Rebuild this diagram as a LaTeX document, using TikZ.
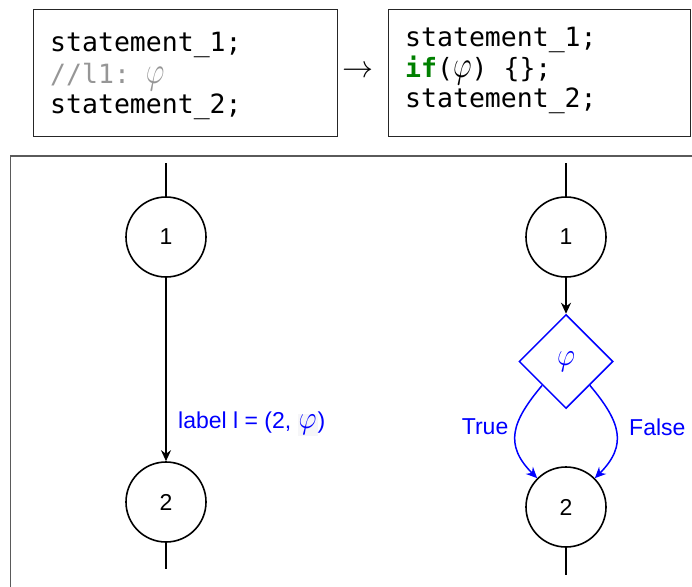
\RequirePackage{fix-cm}
\documentclass[tikz,border=0pt]{standalone}
\usepackage{fontspec}
\setmainfont{Liberation Sans}
\setmonofont{DejaVu Sans Mono}
\usetikzlibrary{arrows.meta,shapes.geometric}
\definecolor{cmtgray}{RGB}{150,150,150}
\definecolor{kwgreen}{RGB}{0,128,0}
\definecolor{frameg}{RGB}{90,90,90}
\definecolor{phibg}{RGB}{246,246,248}
\newcommand{\phicode}{\smash{\scalebox{1.45}[1.9]{\fontsize{20}{20}\selectfont$\varphi$}}}
\newcommand{\phigraph}{\scalebox{1.4}[1.6]{\fontsize{20}{20}\selectfont$\varphi$}}
\tikzset{
  codeline/.style={anchor=base west, inner sep=0pt, font=\ttfamily\fontsize{26.5}{31}\selectfont},
  codebox/.style={draw=black!85, line width=1pt},
  state/.style={circle, draw=black, line width=1.6pt, minimum size=80pt, inner sep=0pt, font=\fontsize{23}{27}\selectfont},
  cond/.style={diamond, aspect=1, draw=blue, line width=1.5pt, minimum size=94pt, inner sep=0pt, text=blue, font=\fontsize{23}{27}\selectfont},
  flow/.style={line width=1.6pt, -{Stealth[length=11pt,width=10pt]}},
  bflow/.style={blue, line width=1.5pt, -{Stealth[length=11pt,width=10pt]}},
  plain/.style={line width=1.6pt},
  lbl/.style={text=blue, inner sep=0pt, font=\fontsize{23}{27}\selectfont},
}
\begin{document}
\begin{tikzpicture}[x=1pt,y=-1pt]
\useasboundingbox (0,0) rectangle (692,586);
% top code boxes
\draw[codebox] (33,9.5) rectangle (337,136);
\draw[codebox] (388,9.5) rectangle (690.5,136);
\node[codeline] (a1) at (50,51.5) {statement\_1;};
\node[codeline, text=cmtgray] (a2) at (50,83.5) {//l1: \phicode};
\node[codeline] (a3) at (50,113) {statement\_2;};
\node[codeline] (b1) at (405,47) {statement\_1;};
\node[codeline] (b2) at (405,77) {\textcolor{kwgreen}{\bfseries if}(\phicode) \{\};};
\node[codeline] (b3) at (405,107) {statement\_2;};
\node[inner sep=0pt, font=\fontsize{31}{33}\selectfont] (arr) at (357.5,72) {$\rightarrow$};
% lower frame
\begin{scope}
\clip (0,0) rectangle (692,586);
\draw[frameg, line width=1.2pt] (10.5,156) rectangle (720,620);
\end{scope}
% left graph
\node[state] (l1) at (166,237) {1};
\node[state] (l2) at (166,502) {2};
\coordinate (lt) at (166,163);
\coordinate (lb) at (166,569);
\draw[plain] (lt) -- (l1.north);
\draw[flow] (l1.south) -- (l2.north);
\draw[plain] (l2.south) -- (lb);
\node[lbl, anchor=west] (lab) at (178,424) {label l = (2, {\setlength{\fboxsep}{1pt}\colorbox{phibg}{\phigraph}})};
% right graph
\node[state] (r1) at (566,237) {1};
\node[cond] (d) at (566,361.5) {\phigraph};
\node[state] (r2) at (566,507) {2};
\coordinate (rt) at (566,163);
\coordinate (rb) at (566,575);
\draw[plain] (rt) -- (r1.north);
\draw[flow] (r1.south) -- (d.north);
\draw[plain] (r2.south) -- (rb);
\draw[bflow] (d.south west) to[out=-130, in=135, looseness=1.3] (r2.north west);
\draw[bflow] (d.south east) to[out=-50, in=45, looseness=1.3] (r2.north east);
\node[lbl, anchor=east] (tl) at (508.5,427) {True};
\node[lbl, anchor=west] (fl) at (629,427) {False};
\end{tikzpicture}
\end{document}
